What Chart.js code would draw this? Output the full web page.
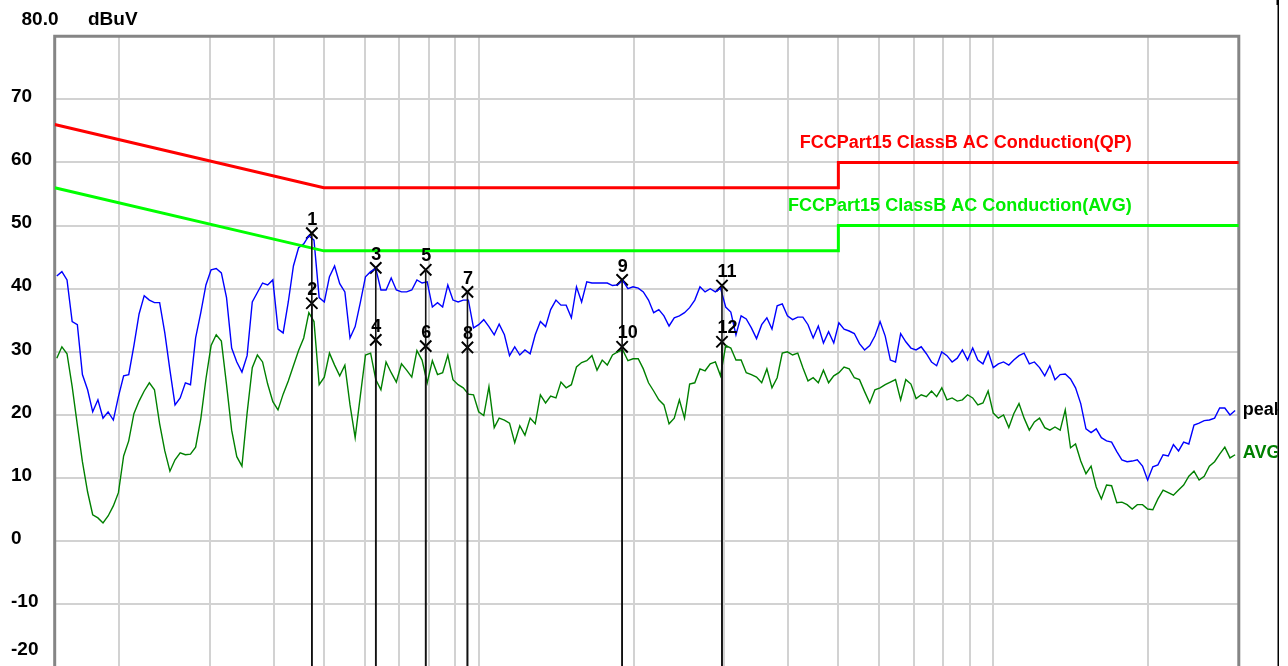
<!DOCTYPE html>
<html>
<head>
<meta charset="utf-8">
<title>Conducted emission scan</title>
<script src="https://cdn.jsdelivr.net/npm/chart.js@4.4.0/dist/chart.umd.min.js"></script>
<style>
  html, body { margin: 0; padding: 0; background: #ffffff; overflow: hidden; }
  canvas { display: block; }
</style>
</head>
<body>
<canvas id="scan" width="1288" height="700"></canvas>
<script>
// Sweep frequencies (MHz), 100 points per decade
const freqMHz = [
  0.1514,0.1549,0.1585,0.1622,0.1660,0.1698,0.1738,0.1778,0.1820,0.1862,
  0.1905,0.1950,0.1995,0.2042,0.2089,0.2138,0.2188,0.2239,0.2291,0.2344,
  0.2399,0.2455,0.2512,0.2570,0.2630,0.2692,0.2754,0.2818,0.2884,0.2951,
  0.3020,0.3090,0.3162,0.3236,0.3311,0.3388,0.3467,0.3548,0.3631,0.3715,
  0.3802,0.3890,0.3981,0.4074,0.4169,0.4266,0.4365,0.4467,0.4571,0.4677,
  0.4786,0.4898,0.5012,0.5129,0.5248,0.5370,0.5495,0.5623,0.5754,0.5888,
  0.6026,0.6166,0.6310,0.6457,0.6607,0.6761,0.6918,0.7079,0.7244,0.7413,
  0.7586,0.7762,0.7943,0.8128,0.8318,0.8511,0.8710,0.8913,0.9120,0.9333,
  0.9550,0.9772,
  1.000,1.023,1.047,1.072,1.096,1.122,1.148,1.175,1.202,1.230,
  1.259,1.288,1.318,1.349,1.380,1.413,1.445,1.479,1.514,1.549,
  1.585,1.622,1.660,1.698,1.738,1.778,1.820,1.862,1.905,1.950,
  1.995,2.042,2.089,2.138,2.188,2.239,2.291,2.344,2.399,2.455,
  2.512,2.570,2.630,2.692,2.754,2.818,2.884,2.951,3.020,3.090,
  3.162,3.236,3.311,3.388,3.467,3.548,3.631,3.715,3.802,3.890,
  3.981,4.074,4.169,4.266,4.365,4.467,4.571,4.677,4.786,4.898,
  5.012,5.129,5.248,5.370,5.495,5.623,5.754,5.888,6.026,6.166,
  6.310,6.457,6.607,6.761,6.918,7.079,7.244,7.413,7.586,7.762,
  7.943,8.128,8.318,8.511,8.710,8.913,9.120,9.333,9.550,9.772,
  10.00,10.23,10.47,10.72,10.96,11.22,11.48,11.75,12.02,12.30,
  12.59,12.88,13.18,13.49,13.80,14.13,14.45,14.79,15.14,15.49,
  15.85,16.22,16.60,16.98,17.38,17.78,18.20,18.62,19.05,19.50,
  19.95,20.42,20.89,21.38,21.88,22.39,22.91,23.44,23.99,24.55,
  25.12,25.70,26.30,26.92,27.54,28.18,28.84,29.51
];

// Peak detector trace (dBuV)
const peakLevel = [
  42.0,42.7,41.4,34.8,34.3,26.4,24.0,20.5,22.4,19.5,
  20.5,19.2,22.9,26.2,26.4,31.0,36.0,38.9,38.2,37.8,
  37.8,33.0,27.1,21.6,22.7,25.1,24.8,32.2,36.2,40.6,
  43.0,43.2,42.5,38.6,30.6,28.4,26.8,29.4,37.9,39.4,
  40.9,40.6,41.4,33.6,33.0,37.9,43.6,46.5,47.1,48.4,
  47.7,38.6,37.9,41.9,43.6,40.8,39.5,32.2,34.0,37.8,
  41.9,42.7,43.2,39.8,39.8,41.7,39.8,39.5,39.5,39.8,
  41.4,40.9,41.1,37.1,37.8,37.1,40.6,38.2,37.9,38.2,
  38.2,33.8,34.3,35.1,34.0,32.7,34.4,32.7,29.4,30.8,
  29.5,30.3,29.7,32.7,34.8,34.0,36.7,38.2,37.4,37.4,
  35.4,40.3,37.9,41.1,40.9,40.9,40.9,40.9,40.5,40.6,
  41.3,40.0,40.3,40.1,39.5,38.2,36.2,36.7,35.7,34.1,
  35.4,35.7,36.2,37.0,38.2,40.3,39.5,40.0,39.5,40.1,
  37.1,36.3,32.7,35.7,35.2,33.8,32.1,34.3,35.4,33.6,
  37.3,37.6,35.7,35.1,35.5,35.5,34.3,32.2,34.1,31.4,
  33.2,31.4,34.6,33.6,33.3,32.9,31.3,30.3,31.0,32.5,
  34.8,32.5,28.7,28.4,32.9,31.6,30.6,30.3,30.8,29.7,
  28.4,27.8,30.0,29.4,28.4,29.0,30.3,28.7,30.6,28.7,
  28.1,30.0,27.5,28.1,28.4,27.9,28.7,29.4,29.8,28.1,
  28.4,27.5,26.2,27.8,25.6,26.4,26.5,25.7,24.3,21.8,
  17.8,17.2,17.8,16.4,15.9,15.7,14.2,12.9,12.6,12.7,
  12.9,11.9,9.7,11.8,12.1,13.7,13.5,15.3,14.3,15.7,
  15.4,18.4,18.7,19.1,19.2,19.5,21.1,21.1,20.0,20.7
];

// Average detector trace (dBuV)
const avgLevel = [
  29.0,30.8,29.7,24.5,18.4,12.6,7.8,4.2,3.7,2.9,
  4.0,5.6,7.7,13.5,15.9,20.2,22.2,23.8,25.1,24.0,
  18.6,14.3,11.1,12.9,14.0,13.7,13.8,14.9,19.4,25.7,
  31.0,32.7,31.7,24.8,17.6,13.4,11.9,20.3,27.5,29.5,
  28.4,24.9,22.1,20.8,23.3,25.4,27.8,30.2,32.2,36.2,
  34.8,24.8,26.0,29.8,27.9,26.2,27.9,21.6,16.4,23.0,
  29.5,29.8,25.6,24.0,28.4,26.7,25.2,28.1,27.1,26.0,
  30.2,28.7,25.1,28.6,26.4,26.7,29.5,25.6,24.8,24.3,
  23.3,23.2,20.5,19.9,24.5,18.0,19.5,19.2,18.7,15.6,
  18.3,16.8,19.5,18.6,23.2,21.9,23.0,22.7,25.2,24.3,
  24.8,27.6,28.3,28.6,29.4,27.1,28.7,27.9,29.5,30.0,
  30.3,28.6,28.9,28.9,27.3,25.1,23.8,22.4,21.6,18.6,
  19.5,22.4,19.5,24.9,25.1,27.3,27.0,28.1,28.4,26.2,
  31.0,30.6,28.7,28.7,26.7,26.4,26.0,25.1,27.3,24.3,
  25.9,29.8,30.0,29.5,29.8,27.5,25.4,25.9,25.1,27.1,
  25.1,26.2,26.7,27.6,27.3,25.9,25.6,23.7,21.9,24.0,
  24.3,24.8,25.2,25.6,22.4,25.6,24.9,22.6,23.2,22.9,
  23.8,22.9,24.3,22.4,22.7,22.2,22.4,23.2,22.7,21.6,
  21.9,23.8,20.3,19.5,20.0,18.0,20.2,21.8,19.5,17.6,
  18.9,19.5,18.0,17.6,18.1,17.6,20.8,14.8,15.4,12.7,
  10.7,11.9,8.6,6.7,8.9,8.8,6.1,6.2,5.8,5.1,
  5.8,5.8,5.1,5.0,6.7,8.1,7.7,7.3,8.1,8.9,
  10.3,11.1,9.7,10.3,11.9,12.6,13.8,14.9,13.2,13.7
];

// FCC Part 15 Class B conducted limits
const limitFreq = [0.15, 0.5, 5, 5, 30];
const qpLimit   = [66, 56, 56, 60, 60];
const avgLimit  = [56, 46, 46, 50, 50];
const qpLimitName  = 'FCCPart15 ClassB AC Conduction(QP)';
const avgLimitName = 'FCCPart15 ClassB AC Conduction(AVG)';

// Final measurement markers
const markerNo    = ['1','2','3','4','5','6','7','8','9','10','11','12'];
const markerFreq  = [0.474,0.474,0.631,0.631,0.789,0.789,0.951,0.951,1.900,1.900,2.970,2.970];
const markerLevel = [48.8,37.7,43.3,31.9,43.0,30.9,39.5,30.7,41.4,30.8,40.5,31.6];

// Axis grid
const freqGrid = [0.2,0.3,0.4,0.5,0.6,0.7,0.8,0.9,1,2,3,4,5,6,7,8,9,10,20];
const levelMin = -20, levelMax = 80, levelStep = 10;
const unitLabel = 'dBuV';
const topLabel = '80.0';
const bottomLabel = '-20';

const FONT = '"Liberation Sans", Arial, Helvetica, sans-serif';

const toPoints = (xs, ys) => xs.map((f, i) => ({ x: f, y: ys[i] }));

const decor = {
  id: 'decor',
  beforeDatasetsDraw(chart) {
    const { ctx, chartArea: a } = chart;
    ctx.save();
    ctx.strokeStyle = '#858585';
    ctx.lineWidth = 3;
    ctx.beginPath();
    ctx.moveTo(a.left, a.bottom + 10);
    ctx.lineTo(a.left, a.top);
    ctx.lineTo(a.right, a.top);
    ctx.lineTo(a.right, a.bottom + 10);
    ctx.stroke();
    ctx.restore();
  },
  afterDatasetsDraw(chart) {
    const { ctx, chartArea: a, scales: { y } } = chart;
    ctx.save();

    // marker drop lines and numbers
    const meta = chart.getDatasetMeta(4);
    ctx.strokeStyle = '#111111';
    ctx.lineWidth = 1.6;
    meta.data.forEach((pt) => {
      ctx.beginPath();
      ctx.moveTo(pt.x, pt.y);
      ctx.lineTo(pt.x, a.bottom + 10);
      ctx.stroke();
    });
    ctx.fillStyle = '#000000';
    ctx.font = 'bold 18px ' + FONT;
    ctx.textAlign = 'left';
    ctx.textBaseline = 'alphabetic';
    meta.data.forEach((pt, i) => {
      ctx.fillText(markerNo[i], pt.x - 4.5, pt.y - 8.3);
    });

    // limit captions
    ctx.textAlign = 'right';
    ctx.fillStyle = '#ff0000';
    ctx.fillText(qpLimitName, a.right - 107, y.getPixelForValue(qpLimit[4]) - 14);
    ctx.fillStyle = '#00ee00';
    ctx.fillText(avgLimitName, a.right - 107, y.getPixelForValue(avgLimit[4]) - 15);

    // trace captions at the right edge
    ctx.save();
    ctx.beginPath();
    ctx.rect(0, 0, 1277.5, 700);
    ctx.clip();
    ctx.textAlign = 'left';
    ctx.textBaseline = 'middle';
    ctx.fillStyle = '#000000';
    ctx.fillText('peak', a.right + 4, y.getPixelForValue(peakLevel[peakLevel.length - 1]) - 1);
    ctx.fillStyle = '#008000';
    ctx.fillText('AVG', a.right + 4, y.getPixelForValue(avgLevel[avgLevel.length - 1]) - 2);
    ctx.restore();

    ctx.restore();
  },
  afterDraw(chart) {
    const { ctx } = chart;
    ctx.save();
    ctx.fillStyle = '#000000';
    ctx.font = 'bold 19px ' + FONT;
    ctx.textBaseline = 'middle';
    ctx.textAlign = 'left';
    ctx.fillText(topLabel, 21.5, 19.5);
    ctx.fillText(unitLabel, 88, 19.5);
    ctx.fillText(bottomLabel, 11, 650);
    // window edge
    ctx.fillRect(1277.5, 0, 1.5, 700);
    ctx.fillRect(1276.5, 0, 2.5, 5);
    ctx.restore();
  }
};

new Chart(document.getElementById('scan'), {
  type: 'scatter',
  data: {
    datasets: [
      { label: 'QP limit', data: toPoints(limitFreq, qpLimit), showLine: true,
        borderColor: '#ff0000', borderWidth: 3, pointRadius: 0, tension: 0 },
      { label: 'AVG limit', data: toPoints(limitFreq, avgLimit), showLine: true,
        borderColor: '#00ff00', borderWidth: 3, pointRadius: 0, tension: 0 },
      { label: 'peak', data: toPoints(freqMHz, peakLevel), showLine: true,
        borderColor: '#0000ff', borderWidth: 1.4, pointRadius: 0, tension: 0 },
      { label: 'AVG', data: toPoints(freqMHz, avgLevel), showLine: true,
        borderColor: '#008000', borderWidth: 1.4, pointRadius: 0, tension: 0 },
      { label: 'markers', data: toPoints(markerFreq, markerLevel), showLine: false,
        pointStyle: 'crossRot', pointRadius: 8, borderColor: '#000000',
        backgroundColor: '#000000', pointBorderWidth: 2, borderWidth: 2 }
    ]
  },
  options: {
    responsive: false,
    animation: false,
    devicePixelRatio: 1,
    events: [],
    layout: { padding: { left: 11, right: 49.2, top: 36.2, bottom: 32.5 } },
    plugins: { legend: { display: false }, title: { display: false }, tooltip: { enabled: false } },
    scales: {
      x: {
        type: 'logarithmic',
        min: 0.15,
        max: 30,
        afterBuildTicks: (s) => { s.ticks = freqGrid.map((v) => ({ value: v })); },
        afterFit: (s) => { s.height = 0; },
        ticks: { display: false, autoSkip: false },
        grid: { color: '#d2d2d2', lineWidth: 2, drawTicks: false },
        border: { display: false }
      },
      y: {
        min: levelMin,
        max: levelMax,
        afterFit: (s) => { s.width = 54.7 - 11; },
        ticks: {
          stepSize: levelStep,
          autoSkip: false,
          crossAlign: 'far',
          padding: 0,
          labelOffset: -2.5,
          color: '#000000',
          font: { family: FONT, size: 19, weight: 'bold' },
          callback: (v) => (v === levelMax || v === levelMin) ? '' : String(v)
        },
        grid: { color: '#d2d2d2', lineWidth: 2, drawTicks: false },
        border: { display: false }
      }
    }
  },
  plugins: [decor]
});
</script>
</body>
</html>
